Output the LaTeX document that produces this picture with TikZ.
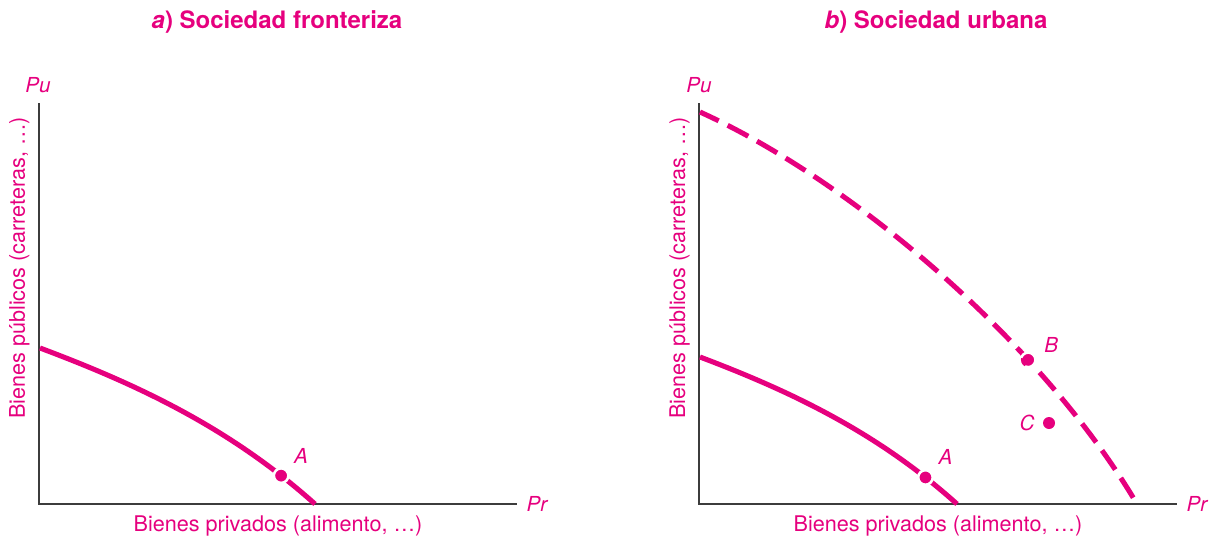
\documentclass[tikz,border=0pt]{standalone}
\usepackage{fontspec}
\setmainfont{TeX Gyre Heros}
\definecolor{mag}{RGB}{230,0,126}
\definecolor{axisgray}{RGB}{60,60,60}
\tikzset{
  axisline/.style={draw=axisgray, line width=1.5pt},
  frontier/.style={draw=mag, line width=3.8pt},
  frontierdash/.style={frontier, dash pattern=on 17.5pt off 7.5pt, dash phase=2pt},
  dotnode/.style={circle, fill=mag, draw=white, line width=1.9pt, inner sep=0pt, minimum size=10.9pt},
  lbl/.style={text=mag, font=\fontsize{15.5}{18}\selectfont\itshape, inner sep=0pt},
  axtext/.style={text=mag, font=\fontsize{16.2}{19}\selectfont, inner sep=0pt},
  ttl/.style={text=mag, font=\fontsize{18}{21}\selectfont\bfseries, inner sep=0pt}
}
\begin{document}
\begin{tikzpicture}[x=0.75pt,y=-0.75pt]
\useasboundingbox (0,0) rectangle (1211,536);

% ---------- Panel a ----------
\node[ttl, anchor=base] (ta) at (277,28) {\textit{a}) Sociedad fronteriza};
\coordinate (Oa) at (39,504);
\coordinate (Ya) at (39,103);
\coordinate (Xa) at (517,504);
\draw[axisline] (Ya) -- (Oa) -- (Xa);
\node[lbl] (Pua) at (38,85) {Pu};
\node[lbl] (Pra) at (537,504) {Pr};
\node[axtext, rotate=90, anchor=base] (yla) at (25,268) {Bienes públicos (carreteras, …)};
\node[axtext, anchor=base] (xla) at (278,531) {Bienes privados (alimento, …)};
\draw[frontier] (40,348) .. controls (136,384) and (229,427) .. (315,504)
  node[dotnode, pos=0.87] (Aa) {};
\node[lbl] (Aal) at ([shift={(20,-20)}]Aa) {A};

% ---------- Panel b ----------
\node[ttl, anchor=base] (tb) at (936,28) {\textit{b}) Sociedad urbana};
\coordinate (Ob) at (699,504);
\coordinate (Yb) at (699,103);
\coordinate (Xb) at (1177,504);
\draw[axisline] (Yb) -- (Ob) -- (Xb);
\node[lbl] (Pub) at (699,85) {Pu};
\node[lbl] (Prb) at (1197,504) {Pr};
\node[axtext, rotate=90, anchor=base] (ylb) at (685,268) {Bienes públicos (carreteras, …)};
\node[axtext, anchor=base] (xlb) at (938,531) {Bienes privados (alimento, …)};
\draw[frontierdash] (700,112) .. controls (850,180) and (1040,340) .. (1137,504)
  node[dotnode, pos=0.7] (Bb) {};
\node[lbl] (Bbl) at ([shift={(23,-15)}]Bb) {B};
\draw[frontier] (700,357) .. controls (790,391) and (877,432) .. (957,504)
  node[dotnode, pos=0.87] (Ab) {};
\node[lbl] (Abl) at ([shift={(20,-20)}]Ab) {A};
\node[dotnode, draw=none, minimum size=9pt] (Cb) at (1049,423) {};
\node[lbl] (Cbl) at ([shift={(-22,0)}]Cb) {C};
\end{tikzpicture}
\end{document}
